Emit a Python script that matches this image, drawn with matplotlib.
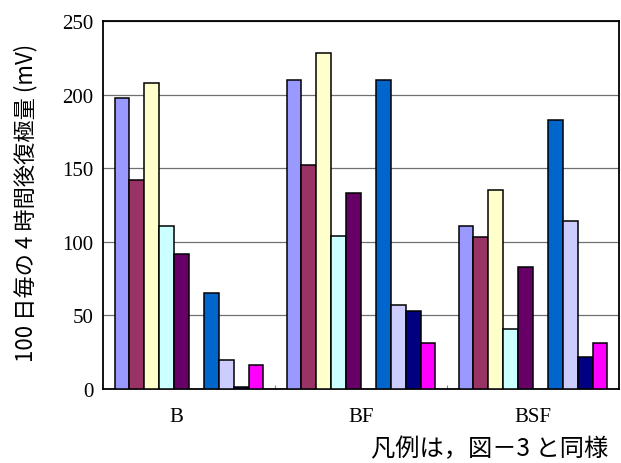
import numpy as np
import matplotlib
matplotlib.use("Agg")
import matplotlib.pyplot as plt
import matplotlib.transforms as mtransforms

# 3 条件 x 10 系列 (6 番目の系列はデータなし)
categories = ['B', 'BF', 'BSF']
s1 = [198, 210, 111]
s2 = [142, 152, 103]
s3 = [208, 228, 135]
s4 = [111, 104, 41]
s5 = [92, 133, 83]
s6 = [np.nan, np.nan, np.nan]
s7 = [65, 210, 183]
s8 = [20, 57, 114]
s9 = [1.5, 53, 21.5]
s10 = [16, 31, 31]
series = [s1, s2, s3, s4, s5, s6, s7, s8, s9, s10]
colors = ['#9999FF', '#993366', '#FFFFCC', '#CCFFFF', '#660066',
          '#FF8080', '#0066CC', '#CCCCFF', '#000080', '#FF00FF']
yticks = [0, 50, 100, 150, 200, 250]

fig = plt.figure(figsize=(6.21, 4.64), dpi=100)
ax = fig.add_axes([0.1659, 0.1595, 0.8309, 0.7931])

x = np.arange(len(categories))
w = 0.0866
for i, (vals, c) in enumerate(zip(series, colors)):
    ax.bar(x + (i - 4.5) * w, vals, width=w, color=c,
           edgecolor='black', linewidth=1.1, zorder=3)

ax.set_xlim(-0.5, len(categories) - 0.5)
ax.set_ylim(0, 250)
ax.set_yticks(yticks)
ax.yaxis.grid(True, color='#707070', linewidth=0.9, zorder=0)
ax.set_axisbelow(True)

ax.set_xticks(x)
ax.set_xticklabels(categories, fontfamily='Liberation Serif', fontsize=15)
ax.set_xticks(x[:-1] + 0.5, minor=True)
ax.tick_params(axis='x', which='major', length=0, pad=13)
ax.tick_params(axis='x', which='minor', direction='in', length=3,
               color='#808080', width=0.8)
ax.tick_params(axis='y', length=0, pad=7)
for lab in ax.get_yticklabels():
    lab.set_fontfamily('Liberation Serif')
    lab.set_fontsize(15)

# 元図では B のラベルが少し左寄り
first = ax.get_xticklabels()[0]
first.set_transform(first.get_transform() +
                    mtransforms.ScaledTranslation(-13 / 100, 0, fig.dpi_scale_trans))

for sp in ax.spines.values():
    sp.set_linewidth(1.3)
    sp.set_color('black')

jp = ['Noto Sans CJK JP', 'DejaVu Sans']
fig.text(0.041, 0.5636, '100 日毎の 4 時間後復極量 (mV)', rotation=90,
         ha='center', va='center', fontsize=16, family=jp)
fig.text(0.979, 0.032, '凡例は，図－3 と同様', ha='right', va='center',
         fontsize=17.5, family=jp)

fig.savefig('out.png', dpi=100)
